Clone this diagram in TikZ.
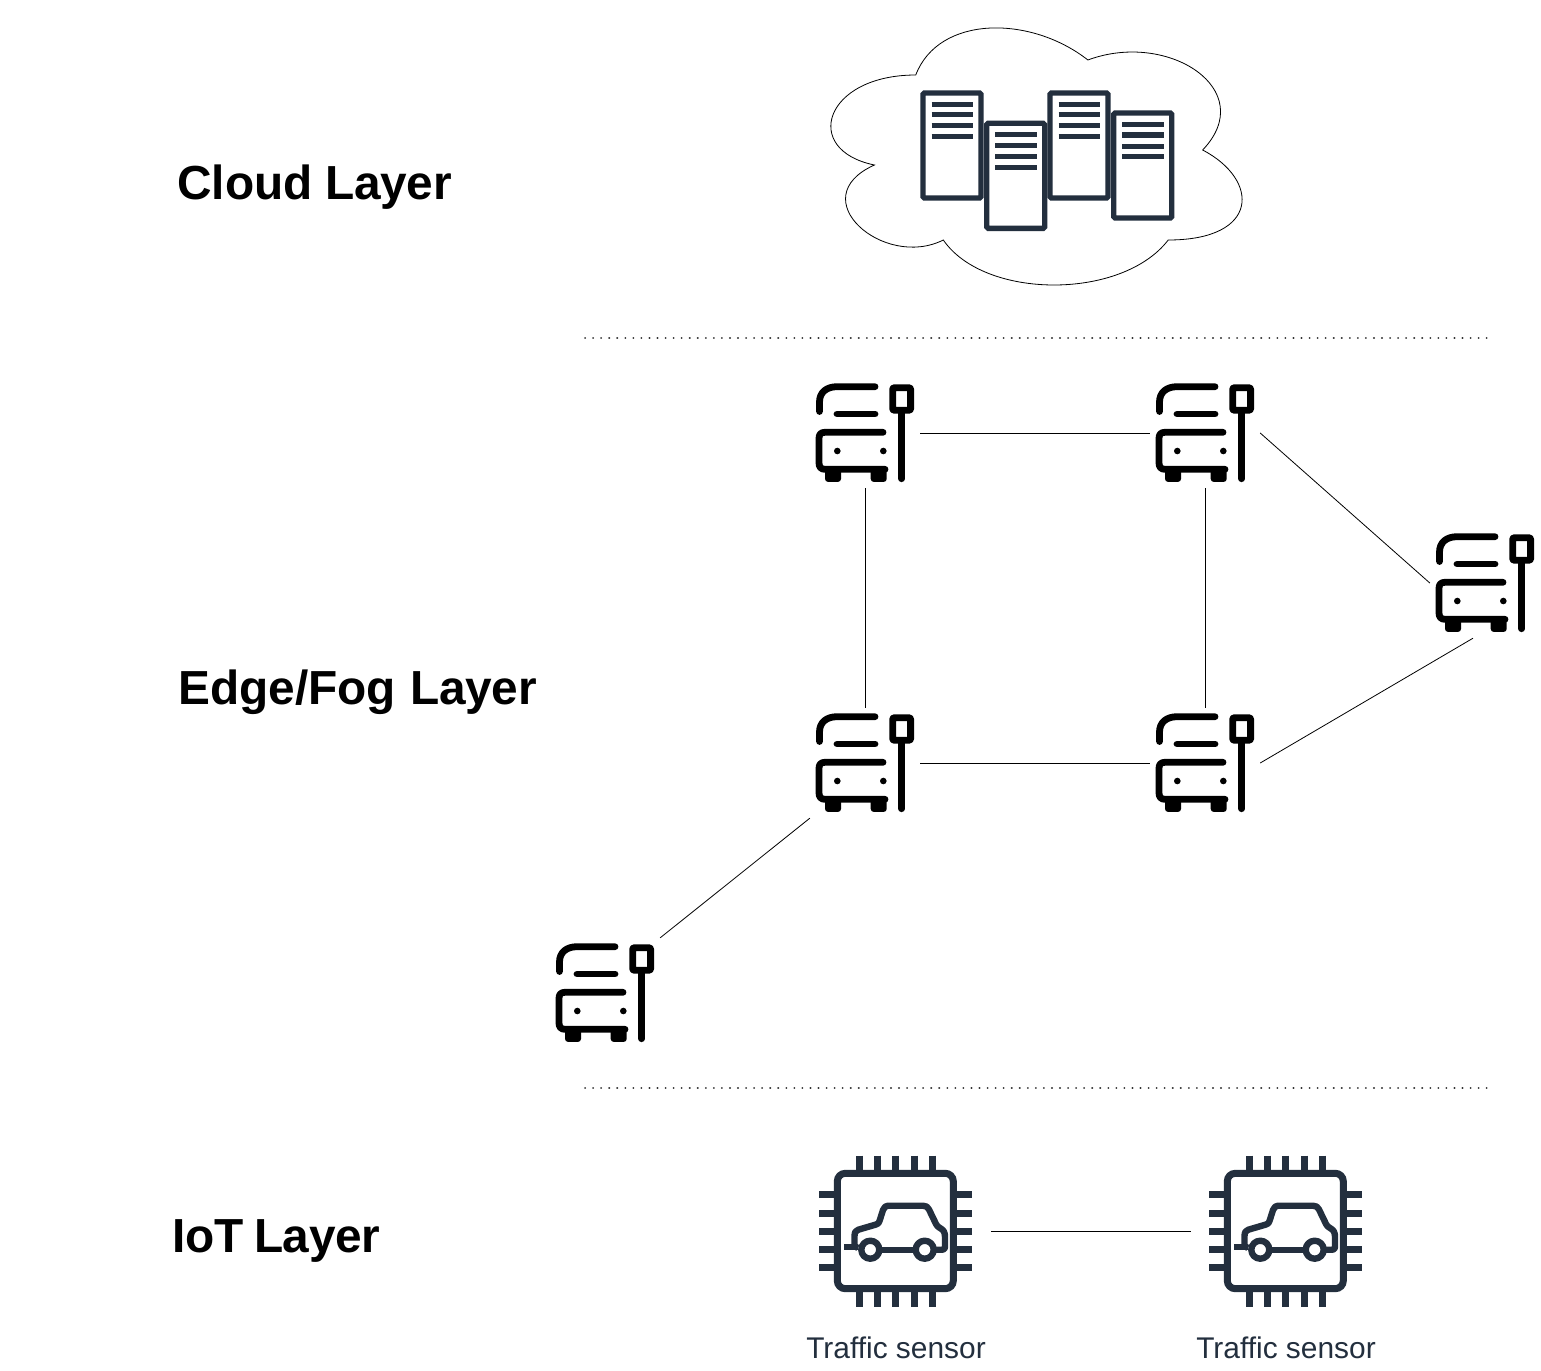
\documentclass[tikz,border=0pt]{standalone}
\usepackage{fontspec}
\setmainfont{Liberation Sans}
\definecolor{awsdark}{HTML}{232F3E}
\newcommand\lyrword{L\kern-0.5pt a\kern-0.5pt y\kern-0.5pt er}
\tikzset{
  x=1pt,y=-1pt,
  link/.style={draw=black,line width=0.8pt},
  sep/.style={draw=black!80,line width=2pt,line cap=round,dash pattern=on 0.1pt off 7.95pt},
  layer/.style={anchor=base west,font=\fontsize{47.8}{56}\selectfont\bfseries,inner sep=0pt},
  caption/.style={anchor=base,font=\fontsize{29.9}{36}\selectfont,text=awsdark,inner sep=0pt},
  holder/.style={inner sep=0pt,minimum width=110pt,minimum height=110pt},
  chipholder/.style={inner sep=0pt,minimum width=190pt,minimum height=190pt},
  servline/.style={draw=awsdark,line width=5pt},
  servbox/.style={draw=awsdark,line width=5.4pt,rounded corners=1.5pt,fill=white},
  pics/bus/.style={code={
    \begin{scope}[line width=6.8pt,line cap=round,line join=round,draw=black,fill=black]
      \draw (19.5,41.5) -- (19.5,32) .. controls (19.5,22) and (27,16.7) .. (37,16.7) -- (75,16.7);
      \draw (37,44) -- (75,44);
      \draw (83,62.3) -- (25,62.3) .. controls (21,62.3) and (19,64.3) .. (19,68.3) -- (19,93) .. controls (19,97) and (21,99.3) .. (25,99.3) -- (85,99.3);
      \fill[rounded corners=3pt] (25,99) rectangle (41,111.9);
      \fill[rounded corners=3pt] (70.7,99) rectangle (86.7,111.9);
      \fill (37.3,81) circle[radius=3.3];
      \fill (83.3,81) circle[radius=3.3];
      \draw[line cap=butt,rounded corners=1pt] (92.7,17.8) rectangle (110.6,40.2);
      \draw (101.7,43) -- (101.7,108.7);
    \end{scope}
  }},
  pics/server/.style={code={
    \draw[servbox] (923,93) rectangle (981,198);
    \foreach \yy in {104.5,115,126,136.7}{\draw[servline] (931.7,\yy) -- (973,\yy);}
  }},
  pics/chip/.style={code={
    \begin{scope}[draw=awsdark,line width=7pt]
      \foreach \p in {59,77.3,95.7,114,132.3}{
        \draw (\p,15.7) -- (\p,32);
        \draw (\p,150) -- (\p,166.7);
      }
      \foreach \p in {54.7,73,91,109.7,127.7}{
        \draw (19.3,\p) -- (36,\p);
        \draw (155,\p) -- (171.7,\p);
      }
      \draw[rounded corners=8pt] (37.3,33.3) rectangle (153.3,148.7);
      \begin{scope}[line width=6.4pt,line join=round]
        \draw (70.3,109.7) circle[radius=9];
        \draw (124.7,109.7) circle[radius=9];
        \draw (44.3,106.7) -- (58,106.7);
        \draw (81.5,109.7) -- (113.5,109.7);
        \draw (58,108) -- (54.5,106) -- (54.5,96) .. controls (54.5,92) and (56,90.5) .. (58.3,89.7) -- (76,84.5) .. controls (78,84) and (79,83) .. (79.5,81) -- (83,70) .. controls (84,67) and (86,65.7) .. (88,65.7) -- (123,65.7) .. controls (126,65.7) and (128,67) .. (129,69.5) -- (136,84) .. controls (137,86) and (138,87) .. (140,88) .. controls (144,90) and (145,93) .. (145,97) -- (145,107) .. controls (145,109) and (144,109.7) .. (142,109.7) -- (135.5,109.7);
      \end{scope}
    \end{scope}
  }},
}
\begin{document}
\begin{tikzpicture}
\useasboundingbox (0,0) rectangle (1541,1370);

% cloud (x0=801, y0=0, w=459, h=300)
\draw[draw=black,line width=0.8pt,fill=white]
  (915.75,75) .. controls (824,75) and (801,150) .. (874.44,165)
  .. controls (801,198) and (883.62,270) .. (943.29,240)
  .. controls (984.6,300) and (1122.3,300) .. (1168.2,240)
  .. controls (1260,240) and (1260,180) .. (1202.63,150)
  .. controls (1260,90) and (1168.2,30) .. (1087.88,60)
  .. controls (1030.5,15) and (938.7,15) .. (915.75,75) -- cycle;

\pic at (0,0) {server};
\pic at (127,0) {server};
\pic at (190.7,20) {server};
\pic at (63.7,30.3) {server};

% labels
\node[layer] (cloudlabel) at (177,199) {Cloud \lyrword};
\node[layer] (edgelabel) at (178,704) {Edge/Fog\kern1.5pt{} \lyrword};
\node[layer] (iotlabel) at (172,1252) {IoT\kern-3pt{} \lyrword};

% separators
\coordinate (s1a) at (585,338);
\coordinate (s1b) at (1493,338);
\coordinate (s2a) at (585,1087.5);
\coordinate (s2b) at (1493,1087.5);
\draw[sep] (s1a) -- (s1b);
\draw[sep] (s2a) -- (s2b);

% buses
\node[holder] (busA) at (865,433) {};
\node[holder] (busB) at (1205,433) {};
\node[holder] (busC) at (1485,583) {};
\node[holder] (busD) at (865,763) {};
\node[holder] (busE) at (1205,763) {};
\node[holder] (busF) at (605,993) {};
\pic at (800,370) {bus};
\pic at (1140,370) {bus};
\pic at (1420,520) {bus};
\pic at (800,700) {bus};
\pic at (1140,700) {bus};
\pic at (540,930) {bus};

\draw[link] (busA.east) -- (busB.west);
\draw[link] (busA.south) -- (busD.north);
\draw[link] (busB.south) -- (busE.north);
\draw[link] (busD.east) -- (busE.west);
\draw[link] (busB.east) -- (busC.west);
\draw[link] (busE.east) -- ([xshift=-12pt]busC.south);
\draw[link] (busF.north east) -- (busD.south west);

% sensors
\node[chipholder] (chipA) at (896,1231) {};
\node[chipholder] (chipB) at (1286,1231) {};
\pic at (800,1140) {chip};
\pic at (1190,1140) {chip};
\draw[link] (chipA.east) -- (chipB.west);
\node[caption] (capA) at (896,1358) {Traffic sensor};
\node[caption] (capB) at (1286,1358) {Traffic sensor};
\end{tikzpicture}
\end{document}
